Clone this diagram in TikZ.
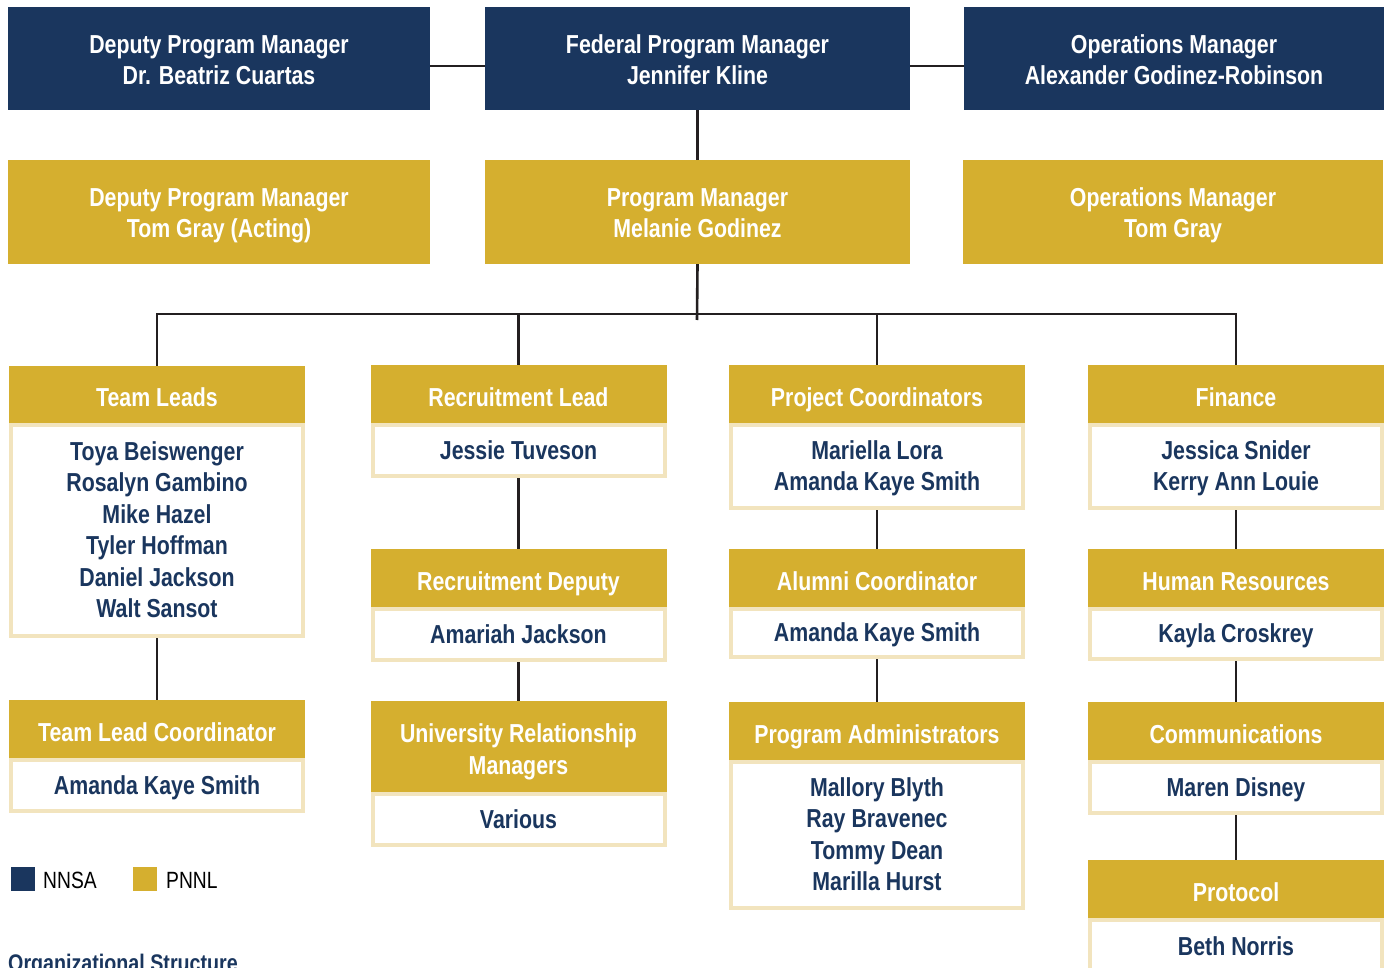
\documentclass[tikz,border=0pt]{standalone}
\usepackage{fontspec}
\setmainfont[FakeStretch=0.82]{Liberation Sans}
\usetikzlibrary{calc}
\definecolor{navy}{RGB}{26,54,94}
\definecolor{gold}{RGB}{213,175,47}
\definecolor{cream}{RGB}{242,228,190}
\definecolor{linec}{RGB}{35,31,32}
\newcommand{\sm}[1]{\smash{#1}}
\tikzset{
  boxfont/.style={font=\bfseries\fontsize{26}{31.5}\selectfont},
  nnsabox/.style={fill=navy, inner sep=0pt, minimum height=103pt},
  pnnlbox/.style={fill=gold, inner sep=0pt, minimum height=104pt},
  hdr/.style={fill=gold, inner sep=0pt, minimum width=296pt},
  bodyb/.style={fill=white, draw=cream, line width=4pt, inner sep=0pt, minimum width=292pt},
  whitetext/.style={boxfont, text=white, align=center, inner sep=0pt},
  navytext/.style={boxfont, text=navy, align=center, inner sep=0pt},
  conn/.style={draw=linec, line width=2.6pt},
  legtext/.style={font=\fontsize{23.5}{28}\selectfont, text=black, inner sep=0pt, anchor=west},
}
\newcommand{\orgunit}[7]{%
  \node[bodyb, minimum height={#5-#4-4}] (#1b) at (#2, {(#4+#5)/2}) {};
  \node[hdr, minimum height={#4-#3}] (#1) at (#2, {(#3+#4)/2}) {};
  \node[whitetext, yshift=-12pt] (#1t) at (#1.center) {#6};
  \node[navytext, yshift=-8.5pt] (#1bt) at (#1b.center) {#7};
}
\newcommand{\topunit}[5]{% name, style, cx, cy, width, text
  \node[#2, minimum width=#5] (#1) at (#3,#4) {};
}
\begin{document}
\begin{tikzpicture}[x=1pt,y=-1pt]
\useasboundingbox[fill=white] (0,0) rectangle (1388,968);
% top rows
\topunit{dpm}{nnsabox}{219}{58.5}{422pt}
\topunit{fpm}{nnsabox}{697.5}{58.5}{425pt}
\topunit{om}{nnsabox}{1174}{58.5}{420pt}
\topunit{dpm2}{pnnlbox}{219}{212}{422pt}
\topunit{pm}{pnnlbox}{697.5}{212}{425pt}
\topunit{om2}{pnnlbox}{1173}{212}{420pt}
\node[whitetext, yshift=-10.5pt] (dpmt) at (dpm.center) {\sm{Deputy Program Manager}\\\sm{Dr. Beatriz Cuartas}};
\node[whitetext, yshift=-10.5pt] (fpmt) at (fpm.center) {\sm{Federal Program Manager}\\\sm{Jennifer Kline}};
\node[whitetext, yshift=-10.5pt] (omt) at (om.center) {\sm{Operations Manager}\\\sm{Alexander Godinez-Robinson}};
\node[whitetext, yshift=-10pt] (dpm2t) at (dpm2.center) {\sm{Deputy Program Manager}\\\sm{Tom Gray (Acting)}};
\node[whitetext, yshift=-10pt] (pmt) at (pm.center) {\sm{Program Manager}\\\sm{Melanie Godinez}};
\node[whitetext, yshift=-10pt] (om2t) at (om2.center) {\sm{Operations Manager}\\\sm{Tom Gray}};
% columns
\orgunit{tl}{157}{366}{423}{638}{\sm{Team Leads}}{\sm{Toya Beiswenger}\\\sm{Rosalyn Gambino}\\\sm{Mike Hazel}\\\sm{Tyler Hoffman}\\\sm{Daniel Jackson}\\\sm{Walt Sansot}}
\orgunit{tlc}{157}{700}{758}{813}{\sm{Team Lead Coordinator}}{\sm{Amanda Kaye Smith}}
\orgunit{rl}{518.5}{365}{423}{478}{\sm{Recruitment Lead}}{\sm{Jessie Tuveson}}
\orgunit{rd}{518.5}{549}{607}{662}{\sm{Recruitment Deputy}}{\sm{Amariah Jackson}}
\orgunit{urm}{518.5}{701}{792}{847}{\sm{University Relationship}\\\sm{Managers}}{\sm{Various}}
\orgunit{pc}{877}{365}{423}{510}{\sm{Project Coordinators}}{\sm{Mariella Lora}\\\sm{Amanda Kaye Smith}}
\orgunit{ac}{877}{549}{607}{659}{\sm{Alumni Coordinator}}{\sm{Amanda Kaye Smith}}
\orgunit{pa}{877}{702}{760}{910}{\sm{Program Administrators}}{\sm{Mallory Blyth}\\\sm{Ray Bravenec}\\\sm{Tommy Dean}\\\sm{Marilla Hurst}}
\orgunit{fin}{1236}{365}{423}{510}{\sm{Finance}}{\sm{Jessica Snider}\\\sm{Kerry Ann Louie}}
\orgunit{hr}{1236}{549}{607}{661}{\sm{Human Resources}}{\sm{Kayla Croskrey}}
\orgunit{com}{1236}{702}{760}{815}{\sm{Communications}}{\sm{Maren Disney}}
\orgunit{pro}{1236}{860}{918}{976}{\sm{Protocol}}{\sm{Beth Norris}}
% connectors
\coordinate (bus) at (697,314);
\coordinate (busend) at (697,320);
\draw[conn] ($(dpm.east)+(0,7.5)$) -- ($(fpm.west)+(0,7.5)$);
\draw[conn] ($(fpm.east)+(0,7.5)$) -- ($(om.west)+(0,7.5)$);
\draw[conn] (fpm.south) -- (pm.north);
\draw[conn] (pm.south) -- (busend);
\draw[conn] (tl.north) -- (tl.north |- bus) -- (fin.north |- bus) -- (fin.north);
\draw[conn] (rl.north) -- (rl.north |- bus);
\draw[conn] (pc.north) -- (pc.north |- bus);
\draw[conn] (tlb.south) -- (tlc.north);
\draw[conn] (rlb.south) -- (rd.north);
\draw[conn] (rdb.south) -- (urm.north);
\draw[conn] (pcb.south) -- (ac.north);
\draw[conn] (acb.south) -- (pa.north);
\draw[conn] (finb.south) -- (hr.north);
\draw[conn] (hrb.south) -- (com.north);
\draw[conn] (comb.south) -- (pro.north);
% legend
\node[fill=navy, minimum size=24pt, inner sep=0pt] (lgn) at (23,879) {};
\node[legtext] (lgnt) at (43,880) {NNSA};
\node[fill=gold, minimum size=24pt, inner sep=0pt] (lgp) at (145,879) {};
\node[legtext] (lgpt) at (166,880) {PNNL};
\node[font=\bfseries\fontsize{24}{28}\selectfont, text=navy, inner sep=0pt, anchor=base west] (title) at (8,971) {Organizational Structure};
\end{tikzpicture}
\end{document}
